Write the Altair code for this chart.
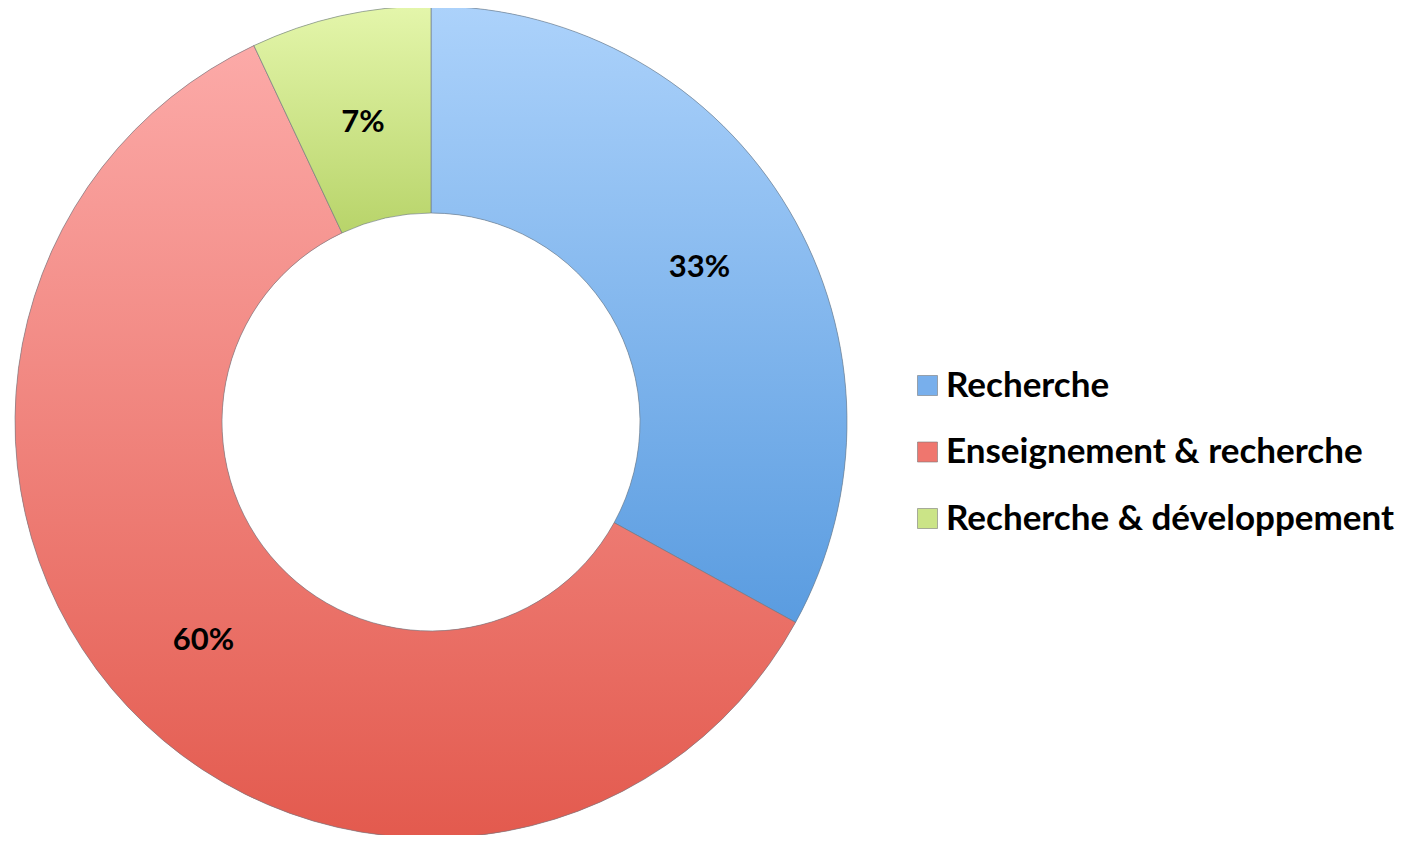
import altair as alt
import pandas as pd

categories = ["Recherche", "Enseignement & recherche", "Recherche & développement"]
values = [33, 60, 7]
labels = ["33%", "60%", "7%"]
order = [1, 2, 3]

mid_colors = ["#78afec", "#ef766e", "#cbe487"]
grad_top = ["#acd2fb", "#fcaaa8", "#e4f6ab"]
grad_bot = ["#5a9ce0", "#e35a4e", "#b8d46a"]

df = pd.DataFrame({"cat": categories, "value": values, "label": labels, "order": order})

def grad(top, bot):
    return {
        "gradient": "linear",
        "x1": 0, "y1": 0, "x2": 0, "y2": 1,
        "stops": [{"offset": 0, "color": top}, {"offset": 1, "color": bot}],
    }

CX, CY = 423, 414
R_OUT, R_IN = 416, 209

base = alt.Chart(df).encode(
    theta=alt.Theta("value:Q", stack=True),
    order=alt.Order("order:Q"),
    x=alt.value(CX),
    y=alt.value(CY),
)

legend_layer = base.mark_arc(radius=R_OUT, radius2=R_IN).encode(
    color=alt.Color(
        "cat:N",
        scale=alt.Scale(domain=categories, range=mid_colors),
        sort=categories,
        legend=alt.Legend(
            title=None,
            orient="none",
            legendX=902,
            legendY=360,
            symbolType="square",
            symbolSize=400,
            symbolStrokeColor="#7a7a7a",
            symbolStrokeWidth=0.6,
            labelFont="Lato",
            labelFontWeight="bold",
            labelFontSize=35,
            labelColor="#000000",
            labelOffset=1,
            rowPadding=30.5,
            labelLimit=700,
            padding=0,
        ),
    )
)

fill_rule = (
    alt.when(alt.datum.cat == categories[0]).then(alt.value(grad(grad_top[0], grad_bot[0])))
    .when(alt.datum.cat == categories[1]).then(alt.value(grad(grad_top[1], grad_bot[1])))
    .otherwise(alt.value(grad(grad_top[2], grad_bot[2])))
)

grad_layer = base.mark_arc(
    radius=R_OUT, radius2=R_IN, stroke="#6f7a84", strokeWidth=0.9, strokeOpacity=0.7
).encode(fill=fill_rule)

text_layer = base.mark_text(
    radius=312, dy=5, font="Lato", fontWeight="bold", fontSize=31, color="#000000"
).encode(text="label:N")

chart = (
    alt.layer(legend_layer, grad_layer, text_layer)
    .properties(width=1397, height=827, autosize=alt.AutoSizeParams(type="none"), padding=0)
    .configure_view(stroke=None)
)

chart.save("out.html", embed_options={"renderer": "svg", "actions": False})
